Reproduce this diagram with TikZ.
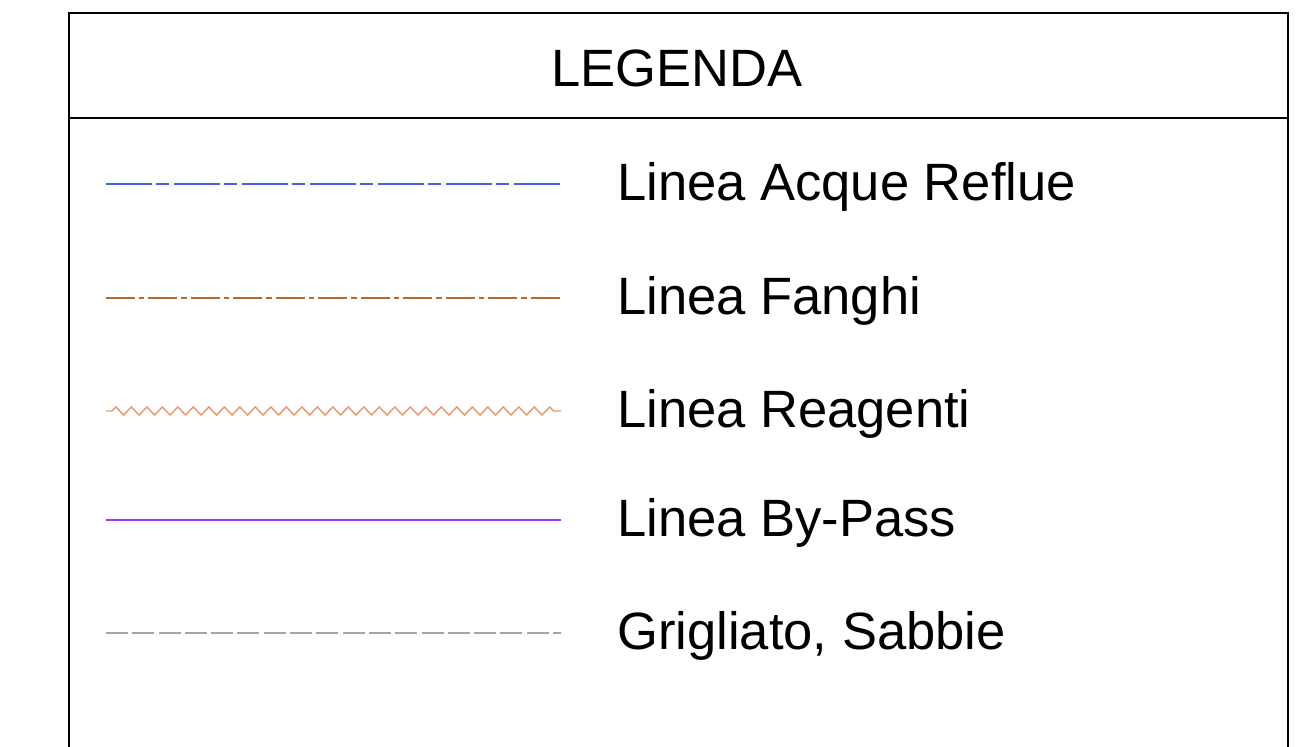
\documentclass[tikz,border=0pt]{standalone}
\usepackage{fontspec}
\setmainfont{Liberation Sans}
\usetikzlibrary{
    decorations.pathmorphing, % zigzag line
    positioning
}

\begin{document}
\begin{tikzpicture}
    [x=0.02cm,y=-0.02cm,line cap=butt,
    % Styles
    frame line/.style={black,line width=1.1pt},
    legend line/.style={line width=0.9pt},
    acque line/.style={legend line,acquecolor,dash pattern=on 0.92cm off 0.09cm on 0.26cm off 0.09cm},
    fanghi line/.style={legend line,fanghicolor,dash pattern=on 0.58cm off 0.08cm on 0.11cm off 0.08cm},
    reagenti line/.style={legend line,line width=0.8pt,reagenticolor,
        decorate,decoration={zigzag,segment length=0.31cm,amplitude=0.08cm,pre length=0.12cm,post length=0.12cm}},
    bypass line/.style={legend line,line width=0.8pt,bypasscolor},
    sabbie line/.style={legend line,sabbiecolor,dash pattern=on 0.44cm off 0.086cm},
    item text/.style={anchor=base west,inner sep=0pt,font=\fontsize{29.9}{36}\selectfont},
    title text/.style={anchor=base,inner sep=0pt,font=\fontsize{29.9}{36}\selectfont}]

    % Colors
    \definecolor{acquecolor}{RGB}{65,100,225}
    \definecolor{fanghicolor}{RGB}{180,105,45}
    \definecolor{reagenticolor}{RGB}{235,150,105}
    \definecolor{bypasscolor}{RGB}{160,60,240}
    \definecolor{sabbiecolor}{RGB}{165,165,165}

    \useasboundingbox (0,0) rectangle (1303,747);

    % The frame
    \draw[frame line] (69,750) -- (69,13) -- (1288,13) -- (1288,750);
    \draw[frame line] (69,118) -- (1288,118);
    \node[title text] (legenda) at (677,86) {LEGENDA};

    % The entries
    \foreach \y/\kind/\name in {184/acque/Linea Acque Reflue,
                                298/fanghi/Linea Fanghi,
                                411/reagenti/Linea Reagenti,
                                520/bypass/Linea By-Pass,
                                633/sabbie/{Grigliato, Sabbie}}
    {
        \coordinate (\kind-start) at (106,\y);
        \coordinate (\kind-end) at (561,\y);
        \draw[\kind\space line] (\kind-start) -- (\kind-end);
        \node[item text] (\kind) at (617,\y+16) {\name};
    }
\end{tikzpicture}
\end{document}
